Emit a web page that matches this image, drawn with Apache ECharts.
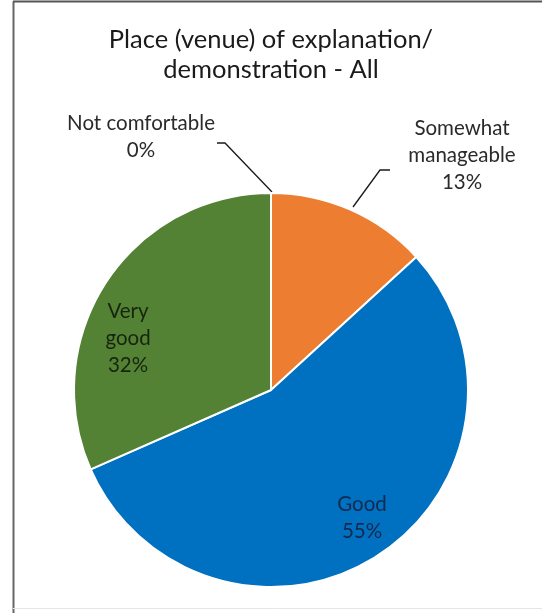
<!DOCTYPE html>
<html>
<head>
<meta charset="utf-8">
<script src="https://cdn.jsdelivr.net/npm/echarts@6/dist/echarts.min.js"></script>
<style>html,body{margin:0;padding:0;background:#fff}#c{width:542px;height:613px}</style>
</head>
<body>
<div id="c"></div>
<script>
const categories = ['Not comfortable', 'Somewhat manageable', 'Good', 'Very good'];
const labelNames = ['Not comfortable', 'Somewhat\nmanageable', 'Good', 'Very\ngood'];
const values = [0, 13.2, 55.2, 31.6];
const colors = ['#A5A5A5', '#ED7D31', '#0070C0', '#548235'];
const titleText = 'Place (venue) of explanation/\ndemonstration - All';

const FONT = 'Lato, "Open Sans", sans-serif';
const chart = echarts.init(document.getElementById('c'));

// label layout (positions only)
const labelPos = [
  { x: 141, y: 137, line: [[217, 143], [225, 143], [272, 192]] },
  { x: 462, y: 155, line: [[390, 170], [380, 170], [353, 207]] },
  { x: 362, y: 518 },
  { x: 128, y: 338 }
];
const labelColors = ['#2a2a2a', '#2a2a2a', '#132a50', '#17240e'];

chart.setOption({
  backgroundColor: '#fff',
  animation: false,
  title: {
    text: titleText,
    left: 'center',
    top: 20,
    padding: [5, 0, 5, 10],
    textStyle: { fontFamily: FONT, fontSize: 25.5, fontWeight: 'normal', color: '#1a1a1a', lineHeight: 30 }
  },
  graphic: [
    { type: 'line', shape: { x1: 13.5, y1: 1.5, x2: 13.5, y2: 613 }, style: { stroke: '#666', lineWidth: 2 } },
    { type: 'line', shape: { x1: 13, y1: 1.5, x2: 542, y2: 1.5 }, style: { stroke: '#555', lineWidth: 2 } },
    { type: 'line', shape: { x1: 13, y1: 608.5, x2: 542, y2: 608.5 }, style: { stroke: '#e6e6e6', lineWidth: 1 } }
  ],
  series: [{
    type: 'pie',
    center: [271, 390],
    radius: 197,
    startAngle: 90,
    clockwise: true,
    avoidLabelOverlap: false,
    itemStyle: { borderColor: '#fff', borderWidth: 2 },
    data: categories.map((c, i) => ({
      name: c,
      value: values[i],
      itemStyle: { color: colors[i] },
      label: {
        position: i < 2 ? 'outside' : 'inside',
        color: labelColors[i]
      },
      labelLine: { show: i < 2, length: 10, length2: 10 }
    })),
    label: {
      show: true,
      fontFamily: FONT,
      fontSize: 20.5,
      lineHeight: 27,
      align: 'center',
      formatter: p => labelNames[p.dataIndex] + '\n' + Math.round(p.percent) + '%'
    },
    labelLine: { lineStyle: { color: '#1a1a1a', width: 1.3 }, smooth: false },
    labelLayout: function (params) {
      const lp = labelPos[params.dataIndex];
      const r = { x: lp.x, y: lp.y, align: 'center', verticalAlign: 'middle' };
      if (lp.line) r.labelLinePoints = lp.line;
      return r;
    }
  }]
});
</script>
</body>
</html>
